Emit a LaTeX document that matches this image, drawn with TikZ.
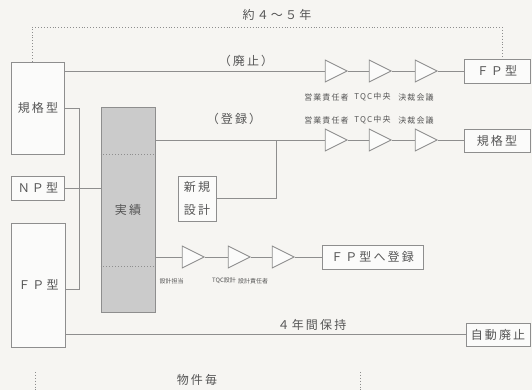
\documentclass[tikz,border=0pt]{standalone}
\usepackage{fontspec}
\usetikzlibrary{shapes.geometric}
\newfontfamily\jp[LetterSpace=18]{Noto Sans CJK JP}
\newfontfamily\jps[LetterSpace=14]{Noto Sans CJK JP}
\newfontfamily\jpn{Noto Sans CJK JP}
\definecolor{bg}{HTML}{F6F5F2}
\definecolor{ln}{HTML}{8E8E8E}
\definecolor{tx}{HTML}{555555}
\definecolor{grayfill}{HTML}{CBCBCB}
\begin{document}
\begin{tikzpicture}[x=1pt,y=-1pt,
  every node/.style={text=tx},
  lne/.style={draw=ln,line width=0.9pt},
  dots/.style={draw=ln,line width=0.9pt,dotted},
  boxn/.style={draw=ln,line width=0.9pt,fill=white!60!bg,inner sep=0pt,font=\jp\fontsize{12}{14}\selectfont,align=center},
  tri/.style={draw=ln,line width=0.9pt,fill=white!60!bg,isosceles triangle,isosceles triangle stretches,minimum width=22pt,minimum height=22pt,inner sep=0pt},
  small/.style={font=\jps\fontsize{8}{9}\selectfont,inner sep=0pt},
  smaller/.style={font=\jpn\fontsize{6}{7}\selectfont,inner sep=0pt},
  lbl/.style={font=\jp\fontsize{12}{14}\selectfont,inner sep=0pt}]
\fill[bg] (0,0) rectangle (532,390);
\useasboundingbox (0,0) rectangle (532,390);

% left boxes
\node[boxn,minimum width=53pt,minimum height=92pt] (kL) at (38,108) {規格型};
\node[boxn,minimum width=53pt,minimum height=24pt] (np) at (38,188) {ＮＰ型};
\node[boxn,minimum width=54pt,minimum height=124pt] (fpL) at (38.5,285) {ＦＰ型};
% jisseki
\node[boxn,fill=grayfill,minimum width=54pt,minimum height=205pt] (jis) at (128,209.5) {実績};
\draw[dots] (jis.west |- 0,154) -- (jis.east |- 0,154);
\draw[dots] (jis.west |- 0,266) -- (jis.east |- 0,266);
% shinki
\node[boxn,minimum width=38pt,minimum height=45pt,font=\jp\fontsize{12}{23}\selectfont] (shinki) at (197,198.5) {新規\\設計};
% right boxes
\node[boxn,minimum width=66pt,minimum height=24pt] (fpR) at (497,71) {ＦＰ型};
\node[boxn,minimum width=66pt,minimum height=23pt] (kR) at (497,140.5) {規格型};
\node[boxn,minimum width=101pt,minimum height=24pt] (fpreg) at (372.5,257) {ＦＰ型へ登録};
\node[boxn,minimum width=64pt,minimum height=23pt] (auto) at (498,334.5) {自動廃止};

% triangles
\node[tri] (t1) at (332,71) {};
\node[tri] (t2) at (376,71) {};
\node[tri] (t3) at (422,71) {};
\node[tri] (t4) at (332,140) {};
\node[tri] (t5) at (376,140) {};
\node[tri] (t6) at (422,140) {};
\node[tri] (t7) at (189,257) {};
\node[tri] (t8) at (235,257) {};
\node[tri] (t9) at (279,257) {};

% small labels
\node[small] (a1) at (326.5,97) {営業責任者};
\node[small] (a2) at (372.5,97) {TQC中央};
\node[small] (a3) at (416,97) {決裁会議};
\node[small] (b1) at (326.5,120) {営業責任者};
\node[small] (b2) at (372.5,120) {TQC中央};
\node[small] (b3) at (416,120) {決裁会議};
\node[smaller] (c1) at (171.5,281) {設計担当};
\node[smaller] (c2) at (224,281) {TQC設計};
\node[smaller] (c3) at (253,281) {設計責任者};

% labels
\node[lbl] (haishi) at (246,61) {（廃止）};
\node[lbl] (toroku) at (234,119) {（登録）};
\node[lbl] (yaku) at (277,15) {約４～５年};
\node[lbl] (hoji) at (312,325) {４年間保持};
\node[lbl] (bukken) at (197,380) {物件毎};

% connectors
\draw[lne] (kL.east |- t1) -- (t1.west);
\draw[lne] (t1.east) -- (t2.west);
\draw[lne] (t2.east) -- (t3.west);
\draw[lne] (t3.east) -- (fpR.west);

\draw[lne] (jis.east |- t4) -- (t4.west);
\draw[lne] (t4.east) -- (t5.west);
\draw[lne] (t5.east) -- (t6.west);
\draw[lne] (t6.east) -- (kR.west |- t6);
\coordinate (j) at (276,140);
\draw[lne] (shinki.east) -| (j);

\draw[lne] (jis.east |- t7) -- (t7.west);
\draw[lne] (t7.east) -- (t8.west);
\draw[lne] (t8.east) -- (t9.west);
\draw[lne] (t9.east) -- (fpreg.west);

\coordinate (bx) at (79,108);
\draw[lne] (kL.east) -- (bx) -- (bx |- 0,289) -- (fpL.east |- 0,289);
\draw[lne] (np.east) -- (np.east -| jis.west);
\draw[lne] (fpL.east |- auto) -- (auto.west);

% dotted spans
\coordinate (dl) at (32,27);
\coordinate (dr) at (502,27);
\draw[dots] (dl |- kL.north) -- (dl) -- (dr) -- (dr |- fpR.north);
\coordinate (bl) at (35,372);
\coordinate (br) at (360,372);
\draw[dots] (bl) -- (bl |- 0,390);
\draw[dots] (br) -- (br |- 0,390);
\end{tikzpicture}
\end{document}
